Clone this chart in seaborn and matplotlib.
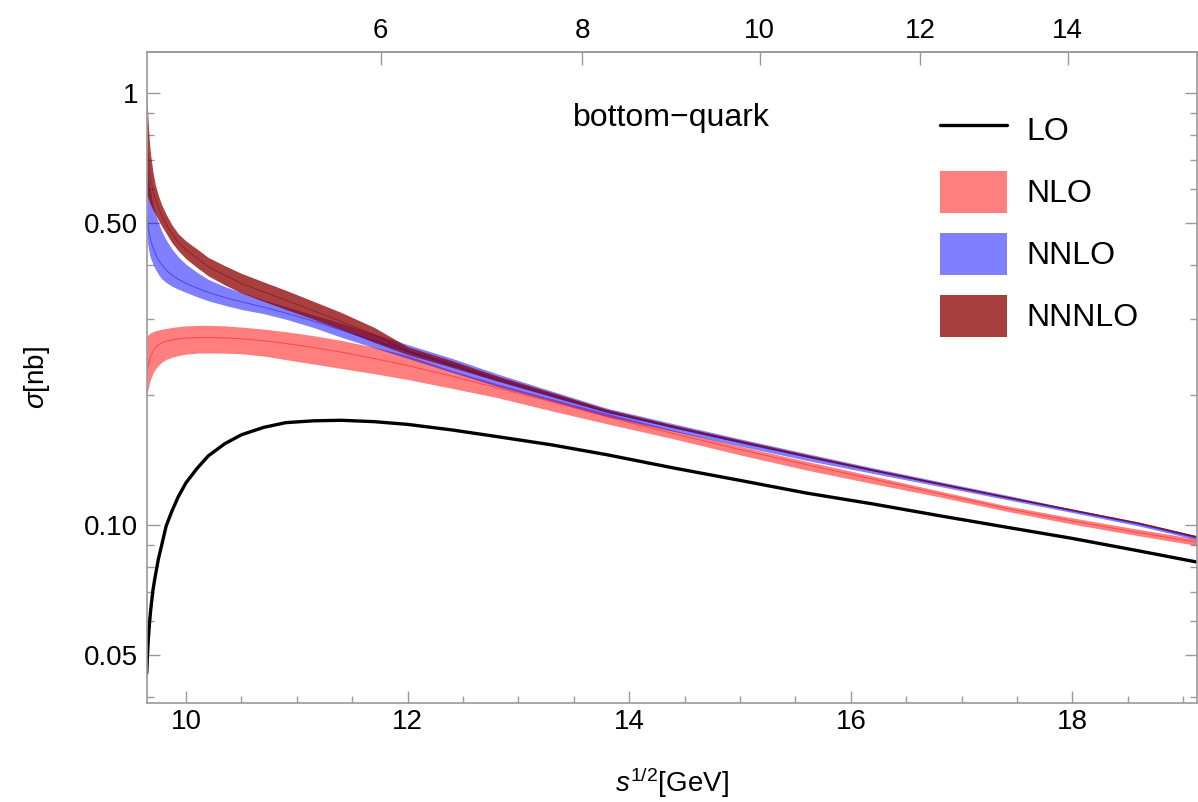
import numpy as np
import matplotlib
matplotlib.use("Agg")
import matplotlib.pyplot as plt
import seaborn as sns
from matplotlib.patches import Patch
from matplotlib.lines import Line2D
from matplotlib.ticker import FixedLocator, FixedFormatter, MultipleLocator, NullFormatter

# sqrt(s) in GeV
sqrt_s = [9.645, 9.65, 9.66, 9.67, 9.68, 9.70, 9.72, 9.75, 9.78, 9.82, 9.87, 9.93,
          10.0, 10.1, 10.2, 10.35, 10.5, 10.7, 10.9, 11.15, 11.4, 11.7, 12.0, 12.4,
          12.8, 13.3, 13.8, 14.4, 15.0, 15.6, 16.2, 16.8, 17.4, 18.0, 18.6, 19.12]

lo = [0.0454, 0.0492, 0.0548, 0.0594, 0.0634, 0.0705, 0.0758, 0.0835, 0.0900, 0.0996, 0.1075, 0.1165,
      0.1255, 0.1355, 0.1447, 0.1545, 0.1620, 0.1685, 0.1728, 0.1745, 0.1750, 0.1737, 0.1712, 0.1662,
      0.1605, 0.1535, 0.1456, 0.1357, 0.1270, 0.1187, 0.1120, 0.1052, 0.0990, 0.0932, 0.0872, 0.0822]

nlo_low = [0.198, 0.2025, 0.2085, 0.2135, 0.2180, 0.2245, 0.2292, 0.2345, 0.2385, 0.2420, 0.2448, 0.2472,
           0.2490, 0.2503, 0.2506, 0.2503, 0.2495, 0.2465, 0.2418, 0.2362, 0.2307, 0.2243, 0.2175, 0.2075,
           0.1977, 0.1840, 0.1717, 0.1585, 0.1455, 0.1342, 0.1248, 0.1163, 0.1078, 0.1006, 0.0945, 0.0898]
nlo_mid = [0.224, 0.229, 0.236, 0.2415, 0.246, 0.2525, 0.2570, 0.2615, 0.2645, 0.2668, 0.2686, 0.2700,
           0.2712, 0.2718, 0.2720, 0.2715, 0.2702, 0.2675, 0.2636, 0.2580, 0.2518, 0.2432, 0.2343, 0.2214,
           0.2083, 0.1931, 0.1783, 0.1630, 0.1497, 0.1381, 0.1279, 0.1183, 0.1094, 0.1023, 0.0961, 0.0914]
nlo_high = [0.2729, 0.2745, 0.2765, 0.2780, 0.2792, 0.2806, 0.2818, 0.2832, 0.2843, 0.2855, 0.2870, 0.2884,
            0.2895, 0.2903, 0.2904, 0.2895, 0.2876, 0.2846, 0.2806, 0.2748, 0.2680, 0.2583, 0.2470, 0.2282,
            0.2128, 0.1963, 0.1815, 0.1660, 0.1524, 0.1406, 0.1300, 0.1200, 0.1110, 0.1040, 0.0978, 0.0930]

nnlo_low = [0.470, 0.455, 0.437, 0.424, 0.415, 0.403, 0.393, 0.381, 0.372, 0.365, 0.358, 0.352,
            0.346, 0.338, 0.331, 0.323, 0.316, 0.309, 0.300, 0.287, 0.2725, 0.2575, 0.2435, 0.2260,
            0.2100, 0.1940, 0.1787, 0.1650, 0.1525, 0.1413, 0.1318, 0.1230, 0.1147, 0.1070, 0.0996, 0.0926]
nnlo_mid = [0.53, 0.51, 0.487, 0.470, 0.457, 0.440, 0.427, 0.412, 0.401, 0.390, 0.380, 0.371,
            0.363, 0.354, 0.346, 0.337, 0.329, 0.320, 0.310, 0.297, 0.283, 0.2673, 0.2525, 0.2345,
            0.2170, 0.1990, 0.1826, 0.1684, 0.1555, 0.1440, 0.1338, 0.1246, 0.1161, 0.1080, 0.1005, 0.0935]
nnlo_high = [0.694, 0.672, 0.640, 0.612, 0.590, 0.556, 0.530, 0.502, 0.480, 0.458, 0.437, 0.418,
             0.402, 0.385, 0.371, 0.357, 0.346, 0.333, 0.321, 0.307, 0.2935, 0.2775, 0.2620, 0.2435,
             0.2245, 0.2045, 0.1866, 0.1718, 0.1585, 0.1466, 0.1358, 0.1262, 0.1175, 0.1090, 0.1015, 0.0945]

n3lo_low = [0.586, 0.580, 0.570, 0.560, 0.551, 0.538, 0.526, 0.509, 0.493, 0.474, 0.452, 0.432,
            0.414, 0.395, 0.378, 0.360, 0.345, 0.330, 0.316, 0.300, 0.2840, 0.2650, 0.2485, 0.2320,
            0.2160, 0.1985, 0.1825, 0.1680, 0.1553, 0.1438, 0.1335, 0.1242, 0.1157, 0.1080, 0.1008, 0.0936]
n3lo_mid = [0.76, 0.735, 0.69, 0.655, 0.630, 0.597, 0.571, 0.544, 0.522, 0.499, 0.474, 0.452,
            0.434, 0.415, 0.397, 0.379, 0.363, 0.347, 0.332, 0.314, 0.2965, 0.2755, 0.2532, 0.2360,
            0.2190, 0.2007, 0.1840, 0.1692, 0.1564, 0.1447, 0.1342, 0.1248, 0.1162, 0.1085, 0.1012, 0.0941]
n3lo_high = [1.016, 0.940, 0.836, 0.765, 0.720, 0.660, 0.618, 0.580, 0.552, 0.525, 0.497, 0.473,
             0.455, 0.436, 0.417, 0.399, 0.383, 0.366, 0.350, 0.330, 0.311, 0.287, 0.259, 0.2405,
             0.2220, 0.2030, 0.1855, 0.1705, 0.1575, 0.1457, 0.1350, 0.1255, 0.1168, 0.1090, 0.1017, 0.0946]

top_ticks = [6, 8, 10, 12, 14]
y_major = [0.05, 0.1, 0.5, 1]
y_major_labels = ["0.05", "0.10", "0.50", "1"]
y_minor = [0.04, 0.06, 0.07, 0.08, 0.09, 0.2, 0.3, 0.4, 0.6, 0.7, 0.8, 0.9]

sns.set_style("ticks")
plt.rcParams['font.family'] = ['Liberation Sans', 'DejaVu Sans']
plt.rcParams['mathtext.fontset'] = 'custom'
plt.rcParams['mathtext.rm'] = 'Liberation Sans'
plt.rcParams['mathtext.it'] = 'Liberation Sans:italic'
plt.rcParams['text.color'] = 'black'
plt.rcParams['axes.labelcolor'] = 'black'

fig = plt.figure(figsize=(11.98, 8.02), dpi=100)
ax = fig.add_axes([0.1225, 0.1231, 0.8763, 0.8117])

c_nlo = (1.0, 0.0, 0.0)
c_nnlo = (0.0, 0.0, 1.0)
c_n3lo = (0.55, 0.0, 0.0)

# bands, drawn in order so the higher orders sit on top
ax.fill_between(sqrt_s, nlo_low, nlo_high, color=c_nlo, alpha=0.5, lw=0)
sns.lineplot(x=sqrt_s, y=nlo_mid, color=c_nlo, lw=0.7, alpha=0.45, ax=ax)
ax.fill_between(sqrt_s, nnlo_low, nnlo_high, color=c_nnlo, alpha=0.5, lw=0)
sns.lineplot(x=sqrt_s, y=nnlo_mid, color=c_nnlo, lw=0.7, alpha=0.45, ax=ax)
ax.fill_between(sqrt_s, n3lo_low, n3lo_high, color=c_n3lo, alpha=0.75, lw=0)
sns.lineplot(x=sqrt_s, y=n3lo_mid, color=(0.45, 0.0, 0.05), lw=0.7, alpha=0.45, ax=ax)
sns.lineplot(x=sqrt_s, y=lo, color='black', lw=2.4, ax=ax, solid_joinstyle='round')

ax.set_yscale('log')
ax.set_xlim(9.645, 19.12)
ax.set_ylim(0.0387, 1.245)
ax.yaxis.set_major_locator(FixedLocator(y_major))
ax.yaxis.set_major_formatter(FixedFormatter(y_major_labels))
ax.yaxis.set_minor_locator(FixedLocator(y_minor))
ax.yaxis.set_minor_formatter(NullFormatter())
ax.xaxis.set_major_locator(MultipleLocator(2))
ax.xaxis.set_minor_locator(MultipleLocator(0.5))

gray = '#9a9a9a'
for s in ax.spines.values():
    s.set_color(gray)
    s.set_linewidth(1.2)
ax.tick_params(which='both', direction='in', colors=gray, labelcolor='black',
               labelsize=20, right=True, top=False, width=1)
ax.tick_params(which='major', length=9)
ax.tick_params(which='minor', length=5)
ax.tick_params(axis='y', which='major', pad=6)
ax.tick_params(axis='x', which='major', pad=4)

# top axis in s / 23 (quadratic in sqrt(s))
secax = ax.secondary_xaxis('top', functions=(lambda x: np.asarray(x) ** 2 / 23.03,
                                             lambda t: np.sqrt(np.clip(t, 0, None) * 23.03)))
secax.set_xticks(top_ticks)
secax.tick_params(direction='in', colors=gray, labelcolor='black', labelsize=20,
                  length=9, pad=6, width=1)
secax.spines['top'].set_color(gray)
secax.spines['top'].set_linewidth(1.2)

ax.set_xlabel(r"$s^{1/2}$[GeV]", fontsize=20)
ax.set_ylabel(r"$\sigma$[nb]", fontsize=20)
ax.xaxis.set_label_coords(0.5, -0.096)
ax.yaxis.set_label_coords(-0.09, 0.5)

ax.text(0.5, 0.899, "bottom\u2212quark", transform=ax.transAxes,
        ha='center', va='center', fontsize=23)

handles = [Line2D([], [], color='black', lw=2.4),
           Patch(facecolor=c_nlo, alpha=0.5, lw=0),
           Patch(facecolor=c_nnlo, alpha=0.5, lw=0),
           Patch(facecolor=c_n3lo, alpha=0.75, lw=0)]
ax.legend(handles, ["LO", "NLO", "NNLO", "NNNLO"], loc='upper left',
          bbox_to_anchor=(940 / 1198, 1 - 109 / 802), bbox_transform=fig.transFigure,
          frameon=False, fontsize=23, handlelength=2.1, handleheight=1.65,
          labelspacing=0.62, handletextpad=0.6, borderpad=0, borderaxespad=0)

plt.savefig("out.png", dpi=100)
plt.close()
